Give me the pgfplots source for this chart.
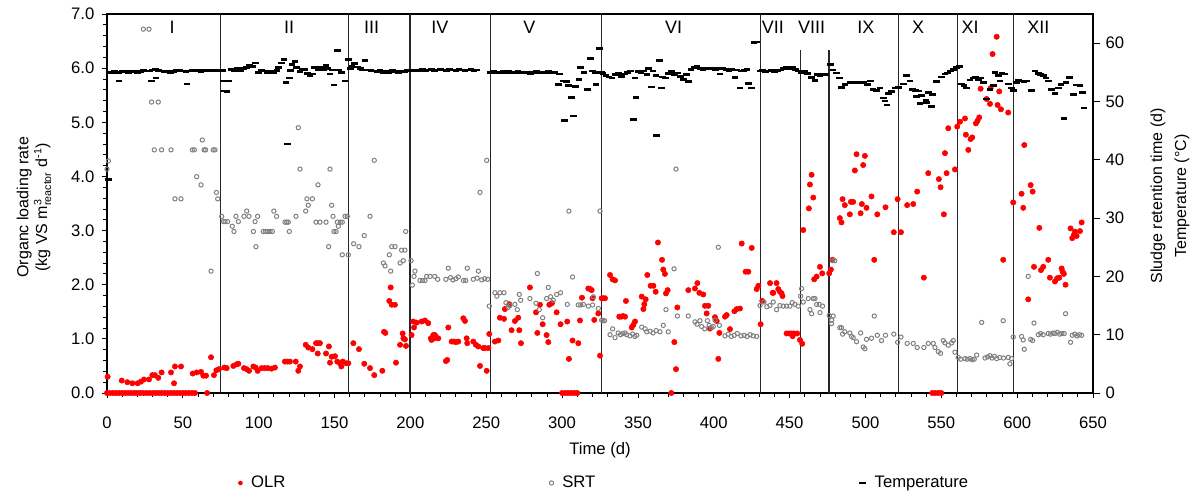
\documentclass[border=0pt]{standalone}
\usepackage{pgfplots}
\pgfplotsset{compat=1.18}
\usepackage{amsmath}
\usepackage{fontspec}
\setmainfont{Liberation Sans}
\definecolor{srtgray}{RGB}{128,128,128}
\definecolor{olrred}{RGB}{255,0,0}
\begin{document}
\begin{tikzpicture}[font=\fontsize{12.5}{14}\selectfont]
\useasboundingbox (-80.25pt,-78pt) rectangle (816pt,294.75pt);
\begin{axis}[
  scale only axis, width=739.5pt, height=284.25pt,
  at={(0,0)}, anchor=south west,
  xmin=0, xmax=650, ymin=0, ymax=7,
  xtick={0,50,...,650}, minor x tick num=4,
  ytick={0,1,...,7}, minor y tick num=4,
  xtick pos=bottom, ytick pos=left,
  tick align=outside,
  major tick length=4pt, minor tick length=3pt,
  every tick/.style={black, line width=0.6pt},
  axis line style={black, line width=0.8pt},
  /pgf/number format/assume math mode=true,
  yticklabel style={xshift=-2pt, /pgf/number format/.cd, fixed, fixed zerofill, precision=1},
  xticklabel style={yshift=-10pt},
  xlabel={Time (d)},
  xlabel style={at={(axis description cs:0.5,-0.150)}, anchor=center},
  ylabel={Organc loading rate\\(kg VS m$^{\text{3}}_{\text{reactor}}$ d$^{\text{-1}}$)},
  every axis y label/.style={at={(axis description cs:-0.074,0.49)}, rotate=90, anchor=center, align=center, font=\fontsize{12}{14}\selectfont},
  clip=false,
]
\addplot[only marks, mark=*, mark size=2pt, color=olrred] coordinates {
(0,0)(2,0)(4,0)(6,0)(8,0)(10,0)(12,0)(14,0)(16,0)(18,0)(20,0)(22,0)(24,0)(26,0)(28,0)(30,0)(32,0)(34,0)(36,0)(38,0)(40,0)(42,0)(44,0)(46,0)(48,0)(50,0)(52,0)(54,0)(56,0)(58,0)(66,0)
(300,0)(302,0)(304,0)(306,0)(308,0)(310,0)(372,0)(544,0)(546,0)(548,0)(550,0)
(0.4,0.30)(9.7,0.23)(13.4,0.20)(16.7,0.18)(20.2,0.18)(22.4,0.21)(24.4,0.25)(27.7,0.25)(29.9,0.33)(31.6,0.33)(33.8,0.28)(36.0,0.38)(42.2,0.38)(44.2,0.18)(44.8,0.49)(48.8,0.49)(56.5,0.36)(59.1,0.38)(62.0,0.39)(63.5,0.32)(65.3,0.32)(68.6,0.66)(70.5,0.33)(72.1,0.42)(73.8,0.44)(77.3,0.47)(78.9,0.46)(83.3,0.50)(85.5,0.53)(86.6,0.54)(90.3,0.46)(92.1,0.44)(93.6,0.41)(96.5,0.49)(98.0,0.47)(99.3,0.41)(102,0.46)(104,0.46)(106,0.46)(108.5,0.45)(110.7,0.47)(117.3,0.58)(119,0.58)(120.6,0.58)(124.4,0.58)(126.1,0.41)(127.2,0.49)(131,0.89)(132.7,0.84)(135.4,0.81)(137.8,0.92)(139,0.92)(140.4,0.92)(138.9,0.73)(144.4,0.73)(146.3,0.86)(147,0.56)(148.1,0.67)(150.3,0.68)(151.8,0.58)(153.6,0.55)(154.5,0.49)(155.4,0.58)(157.6,0.55)(159.1,0.55)(162.4,0.92)(166.1,0.81)(169.6,0.54)(173.4,0.46)(176.2,0.33)(181.5,0.41)(182.6,1.13)(183.5,1.11)(186.1,1.70)(187,1.95)(187.7,1.63)(189.8,1.63)(190.5,0.56)(193.2,0.89)(194.9,1.10)(195.4,1.01)(196.4,0.99)(197.1,0.87)(200.8,1.07)(201.9,1.32)(202.4,1.21)(204.1,1.30)(207.4,1.32)(209.6,1.34)(211.8,1.29)(214,0.98)(215.1,1.07)
(216.2,1.07)(213.5,1.01)(216,1.01)(218.4,1.01)(223.4,0.59)(224.3,0.61)(225,1.21)(227.2,0.95)(228.5,0.95)(230,0.94)(231.6,0.95)(234.9,1.38)(236,1.33)(237.1,1.01)(237.5,0.92)(241.5,0.95)(243.2,0.89)(244.8,0.86)(245.9,0.50)(248,0.83)(249.2,0.83)(250.3,0.41)(251.4,0.83)(252,1.09)(255.7,0.95)(258,0.97)(259,1.39)(261.7,1.37)(262.3,1.55)(265.2,1.64)(266.7,1.16)(268.9,1.33)(271.1,1.39)(271.8,1.16)(272.9,0.92)(278.8,1.95)(282.8,1.49)(283.7,1.11)(285.4,1.63)(287.2,1.27)(289.8,1.07)(290.9,0.94)(291.6,1.63)(293.3,1.66)(296.4,1.49)(299,1.27)(303.4,1.32)(304.5,0.63)(306.9,0.97)(310.7,0.92)(311.8,1.34)(313.1,1.76)(317.3,1.93)(318.5,1.92)(319.5,1.90)(320.1,1.75)(321.2,1.35)(323.9,1.47)(325,0.69)(326.1,1.75)
(327.2,1.75)(328.3,1.75)(331.6,2.18)(333.3,2.10)(334.9,2.08)(337.7,1.41)(339,1.41)(340.2,1.42)(341.5,1.41)(342.1,1.70)(345.9,1.21)(347,1.26)(348.1,1.32)(352.5,1.78)(353.6,1.55)(354.2,1.64)(355.1,1.73)(356.2,2.18)(358.4,1.98)(360.2,1.98)(361.7,1.87)(363.2,2.78)(365.9,2.46)(366.7,2.28)(367.8,2.20)(368.5,1.84)(369.6,1.90)(374,0.94)(375.1,0.44)(376,1.58)(383.2,1.90)(387.6,1.93)(389.2,2.03)(390.5,1.85)(393.1,1.82)(394.2,1.61)(396.4,1.61)(395.3,1.47)(397.5,1.19)(400.8,1.40)(401.9,1.33)(403,0.63)(403.7,1.11)(407.4,1.41)(408.5,1.44)(410.7,1.18)(413.6,1.51)(415.1,1.55)(417.3,1.56)(418.4,2.76)(421,2.24)(422.8,2.24)(425,2.68)(428.3,1.92)(429.4,1.98)(430.9,1.27)(432,1.70)(437.1,2.03)(438.8,1.85)
(439.2,1.85)(441.4,2.03)(442.5,1.92)(443.6,1.87)(444.7,1.84)(445.3,1.79)(448,1.10)(449.7,1.10)(451.3,1.10)(452,1.05)(452.8,1.10)(455,1.10)(456.8,0.98)(458.3,0.91)(459,3.01)(462.7,3.41)(463.4,3.85)(464.5,4.03)(465.6,3.61)(466.2,2.10)(467.8,2.15)(470,2.33)(471.5,2.21)(476.1,2.21)(477.2,2.28)(478.3,2.46)(483.1,3.23)(484.2,3.15)(484.9,3.58)(486.4,3.47)(489.7,3.30)(490.4,3.53)(491.9,3.53)(493,4.11)(494.1,4.41)(496.8,3.32)(497.6,3.49)(498.5,4.21)(499.6,4.38)(500.7,3.42)(504,3.63)(505.8,2.46)(507.8,3.30)(513.2,3.43)(518.7,2.97)(521.2,3.58)(523.4,2.97)(527.5,3.47)(531.5,3.49)(534.1,3.72)(538.5,2.13)(541.4,4.06)(548.4,3.95)(549.5,3.80)(551.7,3.30)(552.4,4.43)(553.5,4.06)
(554.6,4.89)(559,4.13)(560.5,4.92)(562.3,5.01)(565.6,5.07)(566.2,4.77)(567.8,4.49)(569.3,4.69)(570.4,4.72)(572.8,4.98)(573.9,5.03)(575,5.09)(575.9,5.62)(579.9,5.43)(582.1,5.34)(582.5,5.63)(583.8,6.26)(586.5,6.58)(587.1,5.32)(588.2,5.57)(589.3,5.24)(590.8,2.46)(594.1,5.18)(597.4,3.52)(602.9,3.68)(604,3.42)(604.7,4.58)(607.3,1.73)(608.9,3.84)(610.2,3.72)(611.1,2.33)(614.6,3.05)(615.7,2.27)(617.2,2.33)(620.5,2.46)(621.6,2.13)(624.9,2.06)(626.4,2.12)(627.8,2.13)(629.3,2.30)(630,2.24)(630.8,2.20)(631.9,2.00)(635.2,3.04)(636.3,2.86)(637.4,2.92)(638.1,2.98)(639.2,2.90)(641.4,2.99)(642.5,3.15)
};
\draw[black!85, line width=0.9pt] (axis cs:75,0) -- (axis cs:75,7);
\draw[black!85, line width=0.9pt] (axis cs:159,0) -- (axis cs:159,7);
\draw[black!85, line width=0.9pt] (axis cs:199.7,0) -- (axis cs:199.7,7);
\draw[black!85, line width=0.9pt] (axis cs:253,0) -- (axis cs:253,7);
\draw[black!85, line width=0.9pt] (axis cs:326,0) -- (axis cs:326,7);
\draw[black!85, line width=0.9pt] (axis cs:431,0) -- (axis cs:431,7);
\draw[black!85, line width=0.9pt] (axis cs:457,0) -- (axis cs:457,6.34);
\draw[black!85, line width=0.9pt] (axis cs:476,0) -- (axis cs:476,6.34);
\draw[black!85, line width=0.9pt] (axis cs:521.6,0) -- (axis cs:521.6,7);
\draw[black!85, line width=0.9pt] (axis cs:560.5,0) -- (axis cs:560.5,7);
\draw[black!85, line width=0.9pt] (axis cs:597.5,0) -- (axis cs:597.5,7);
\begin{scope}[font=\fontsize{13.5}{15}\selectfont]
\node at (axis cs:43,6.76) {I};
\node at (axis cs:120,6.76) {II};
\node at (axis cs:174.5,6.76) {III};
\node at (axis cs:219.5,6.76) {IV};
\node at (axis cs:278.5,6.76) {V};
\node at (axis cs:373.5,6.76) {VI};
\node at (axis cs:439,6.76) {VII};
\node at (axis cs:464.5,6.76) {VIII};
\node at (axis cs:500.3,6.76) {IX};
\node at (axis cs:534.8,6.76) {X};
\node at (axis cs:569,6.76) {XI};
\node at (axis cs:614,6.76) {XII};
\end{scope}
\end{axis}
\begin{axis}[
  scale only axis, width=739.5pt, height=284.25pt,
  at={(0,0)}, anchor=south west,
  xmin=0, xmax=650, ymin=0, ymax=65,
  axis x line=none, axis y line*=right,
  ytick={0,10,...,60},
  tick align=outside, major tick length=5pt,
  every tick/.style={black, line width=0.6pt},
  axis line style={black, line width=0.8pt},
  /pgf/number format/assume math mode=true,
  yticklabel style={xshift=1pt},
  ylabel={Sludge retention time (d)\\Temperature (°C)},
  every axis y label/.style={at={(axis description cs:1.078,0.52)}, rotate=90, anchor=center, align=center, font=\fontsize{12}{18}\selectfont},
  clip=false,
  legend style={at={(axis description cs:0.129,-0.2375)}, anchor=west, draw=none, fill=none, legend columns=3, font=\fontsize{12.5}{14}\selectfont, /tikz/every odd column/.append style={column sep=4.5pt}, /tikz/every even column/.append style={column sep=196pt}},
]
\addlegendimage{only marks, mark=*, mark size=1.5pt, olrred}
\addlegendentry{OLR}
\addplot[only marks, mark=o, mark size=1.6pt, srtgray, line width=0.75pt] coordinates {
(0,38.4)(0.9,39.8)(24,62.4)(27.7,62.4)(29.4,49.9)(33.8,49.9)(31.2,41.7)(36.0,41.7)(42.2,41.7)(44.8,33.3)(48.8,33.3)(56.3,41.7)(57.6,41.7)(59.1,37.1)(62.0,35.7)(62.8,43.4)(64,41.7)(65,41.7)(68.6,20.9)(70,41.7)(71.2,41.7)(72.1,34.4)(73,33.3)(75.6,30.3)(76.7,29.4)(77.8,29.4)(79.5,29.4)(82.6,28.6)(83.7,27.7)(85,30.3)(86.6,29.4)(90.3,30.3)(92.1,31.2)(93.6,30.3)(96.5,27.7)(97.6,29.4)(98.2,25.1)(99.3,30.3)(103,27.7)(104.5,27.7)(106,27.7)
(107.5,27.7)(109,27.7)(110,31.2)(111.8,30.3)(117.3,29.3)(118.5,29.3)(119.5,29.3)(120.2,27.7)(124.6,30.3)(126.1,45.5)(127.2,38.4)(131,31.2)(131.8,33.3)(132.7,32.2)(135.4,33.3)(137.8,29.3)(139.1,35.7)(140.4,29.3)(144.4,29.3)(146.1,25.1)(147,38.4)(148.1,32.2)(149,30.3)(149.6,27.7)(151,27.7)(151.8,29.3)(152.5,28.6)(153.8,29.3)(155.1,29.3)(155.1,23.7)(156.9,30.3)(158.4,30.3)(159.1,23.7)(162.6,25.6)(166.1,25.1)(169.6,27.0)(173.4,30.3)(176.2,39.9)(182.2,22.3)(183.3,21.8)(186.1,23.7)(187,20.9)(187.7,25.1)(189.9,25.1)(193.2,22.3)(194.2,24.5)(195.3,22.7)(196.4,24.5)(196.9,27.7)(200.4,22.7)(201.3,18.5)(202.4,20.0)(203,20.9)(206.3,19.3)(208,19.3)(209.6,19.3)(210.7,20.0)(213,20.0)(216,20.0)
(218,19.5)(223.4,19.5)(225,21.4)(226.5,19.8)(228,19.4)(230,19.6)(231.6,19.9)(235,19.3)(236.5,19.3)(237.5,21.4)(241.5,19.5)(244,19.7)(244.8,20.9)(245.9,34.4)(247,19.4)(249,19.6)(250.3,39.9)(251,19.5)(252,14.9)(255.7,17.2)(257,16.6)(259,17.2)(261.7,17.2)(263,15.5)(264.5,14.7)(265.6,15.0)(268.9,15.2)(270.5,14.3)(271.8,16.9)(272.7,15.9)(278.8,16.2)(282.8,15.4)(283.7,20.5)(285,14.3)(287.2,12.9)(289.8,16.2)(290.9,18.1)(292.4,16.5)(294.2,15.9)(296.4,16.9)(299,17.2)(303.4,15.2)(304.5,31.2)(306.9,19.9)(310.7,15.1)(312.3,15.1)(314,15.2)(317.3,14.9)(320.1,15.1)(320.6,16.5)(323.9,14.5)(325,31.2)(326.1,12.5)
(327,12.4)(328,12.4)(331.6,10.0)(333.3,11.0)(334.9,9.5)(337,10.3)(338.5,10.0)(340,10.2)(341.5,10.3)(342.6,10.0)(344.8,9.8)(346.5,10.1)(348,9.7)(349.2,9.9)(352.5,11.3)(354.7,11.0)(355.8,10.5)(358,10.6)(360,10.3)(362,10.7)(364.5,10.5)(366.7,11.6)(368.5,14.3)(370,10.5)(373.8,21.3)(375.1,38.4)(376,13.2)(383.2,13.2)(387.6,12.2)(389,11.8)(390.9,12.4)(392,11.4)(394,11.0)(395.8,12.4)(397,11.6)(398.5,11.2)(399.7,11.4)(400.8,12.5)(403,25.0)(403.7,11.6)(407.4,9.8)(409.5,10.1)(411.5,9.7)(413.5,9.9)(415.5,10.2)(418,9.8)(420,9.9)(422,9.7)(424,10.0)(426,9.8)(428.3,9.7)(430.5,15.0)(433.1,15.6)(435,14.8)(437,15.0)
(439.2,15.6)(441.4,14.3)(443.6,15.0)(445.8,14.9)(448,14.9)(450.2,14.9)(451.7,15.5)(453.5,15.2)(455.7,14.9)(457.2,16.6)(457.9,17.9)(459,15.6)(462.3,16.2)(463.4,14.3)(464.5,13.6)(465.6,16.2)(466.7,16.2)(467.8,15.2)(469.5,15.2)(470,13.8)(471.7,14.9)(476.1,13.3)(477.7,12.5)(478.7,13.2)(477.6,11.9)(478.3,22.7)(479.8,22.7)(483.1,11.2)(484.2,11.2)(484.9,10.1)(486.4,10.5)(489.7,10.3)(490.8,9.7)(491.9,9.5)(494.1,8.8)(496.8,10.3)(498.5,7.9)(499.6,7.6)(500.7,9.2)(504,9.4)(505.8,13.2)(507.8,9.9)(510.6,9.0)(513.2,9.9)(518.7,10.1)(521.2,8.7)(523.4,9.6)(527.5,8.5)(531.5,8.5)(534.1,7.8)(538.5,7.8)(541.4,8.5)(544.7,8.5)(545.8,7.8)(548,7.1)(549.5,6.8)(551.3,9.0)
(552.4,8.6)(554.6,8.2)(556.8,8.6)(557.9,9.0)(559,7.0)(561.2,6.1)(562.7,5.8)(565.6,5.9)(567.1,5.8)(568.9,5.9)(570.4,5.7)(571.7,5.8)(573.3,6.5)(576.6,12.1)(578.8,6.0)(580.5,6.2)(582,6.4)(583.5,6.0)(585,6.3)(586.5,5.9)(588.5,6.1)(590.8,12.4)(591,6.0)(594.1,6.1)(595.2,5.0)(596.3,5.9)(597.4,9.6)(602.9,9.7)(604,9.1)(604.7,7.5)(607.3,20.0)(608.9,9.2)(610.2,9.0)(611.1,12.0)(614,10.0)(615.5,10.2)(617.2,10.0)(620.5,10.2)(622,10.1)(623.8,10.3)(624.9,10.2)(626.5,10.4)(628,10.1)(629.5,10.2)(631,10.2)(631.9,13.6)(635.2,8.7)(636.3,9.9)(638,10.1)(639.5,9.8)(641,10.0)(642.5,9.9)
};
\addlegendentry{SRT}
\addplot[only marks, mark=-, mark size=2.5pt, black, line width=2pt] coordinates {
(0.9,36.6)(2,55.0)(3.5,55.0)(5,55.1)(7.9,53.5)(8,55.0)(10,55.2)(12,55.1)(14,55.0)(16,55.1)(18,55.2)(20,55.0)(22,55.1)(24,55.3)(26,55.2)(28,55.2)(29.4,53.5)(30,55.4)(32.3,54.0)(32,55.5)(34,55.3)(36,55.2)(38,55.1)(40,55.2)(42,55.0)(44,55.1)(46,55.3)(48,55.4)(50,55.2)(52,55.1)(52.8,53.0)(54,55.2)(56,55.3)(58,55.2)(60,55.4)(62,55.1)(64,55.3)(66,55.2)(68,55.3)(70,55.4)(72,55.3)(74,55.4)(76,55.3)(77,53.5)(77.3,51.8)(79,51.7)(80,53.5)(82,55.5)(84,55.2)(86,55.6)(88,55.3)(90,55.6)(92,55.8)(94,56.2)(96,56.0)(98,56.6)(100,55.0)(102,55.4)
(104,55.2)(106,55.0)(108,55.1)(110,54.9)(112,55.3)(113,55.8)(115,56.6)(116.7,57.2)(118,53.2)(118.9,42.7)(120.2,54.0)(121,55.3)(122,56.3)(124,56.8)(125,55.8)(127.2,55.1)(128.5,55.5)(130.5,55.5)(132,54.8)(133.8,54.4)(135.5,54.7)(137,55.8)(139,55.5)(141,55.8)(143,55.4)(144.4,56.2)(145.5,55.6)(147,54.7)(148.5,55.4)(149.6,52.8)(151.8,58.7)(153,55.4)(154.7,55.0)(156.9,53.5)(159.1,57.2)(160.5,55.6)(161.5,56.1)(163,56.5)(165,55.9)(167,55.7)(168.5,55.4)(170,57.0)(172,55.4)(174,55.3)(176,55.2)(178,55.1)(180,55.3)(182,55.0)(184,55.2)(186,55.0)(188,55.3)(190,55.1)(192,55.0)(194,55.2)(196,55.1)(198,55.3)(200,55.2)(202,55.3)(204,55.4)(206,55.3)(208,55.5)(210,55.3)(212,55.4)(214,55.5)(216,55.3)
(218,55.4)(220,55.5)(222,55.4)(224,55.3)(226,55.5)(228,55.4)(230,55.3)(232,55.5)(234,55.4)(236,55.3)(238,55.4)(240,55.5)(242,55.3)(244,55.4)(253,55.0)(255,55.1)(257,54.9)(259,55.0)(261,55.2)(263,55.0)(265,55.1)(267,54.9)(269,55.0)(271,55.1)(273,55.0)(275,54.9)(277,55.0)(279,54.8)(281,55.0)(283,55.1)(285,55.0)(287,54.9)(289,55.0)(291,55.1)(293,55.0)(295,55.0)(297.5,52.9)(298.5,54.7)(300.8,53.5)(301.5,46.7)(303,53.4)(304.1,52.7)(306.3,50.7)(307.4,47.5)(308.9,52.6)(311.1,53.8)(312.2,55.8)(314.4,55.0)(316.6,52.1)(318.8,57.4)(320,55.2)(321.7,55.0)(322.3,52.9)(324.5,59.1)(326.1,55.0)
(327,54.8)(329,54.5)(331,54.2)(333,54.0)(335,54.6)(337,54.8)(339,54.3)(341,54.7)(343,55.0)(345,55.2)(347,46.9)(348,54.0)(348.7,50.7)(350,55.1)(352,55.0)(354,55.2)(356,54.6)(357,55.6)(359,52.5)(360,55.2)(362.3,44.2)(362,54.5)(364.1,57.0)(365.6,52.3)(366,54.2)(368,54.0)(370,54.8)(372,55.1)(374,54.6)(376,54.9)(378,54.3)(380,53.8)(382,54.6)(383.2,53.4)(385,55.5)(387,55.8)(389,56.0)(391,55.6)(393,55.4)(395,55.7)(397,55.7)(399,55.6)(401,55.5)(403,55.7)(404,54.7)(406,55.6)(408,55.5)(410,55.3)(412,55.5)(414,54.1)(415,55.4)(417.3,52.3)(418,55.2)(420,55.3)(422,55.5)(422.8,53.1)(425,52.3)(426.5,60.1)(428.3,60.2)(430.5,55.2)(432,55.3)(434,55.1)(436,55.2)(438,55.3)(440,55.1)
(442,55.3)(444,55.4)(446,55.6)(448,55.8)(450,55.7)(452,55.8)(454,55.5)(456,55.2)(458,55.0)(460,55.1)(462,54.8)(464.5,54.1)(466.7,53.6)(468,54.6)(470,54.5)(472,54.7)(474,54.6)(477,56.3)(478.7,55.4)(481,54.9)(483,54.0)(484.3,52.4)(486.4,52.9)(489.7,53.2)(491.9,53.3)(495,53.2)(498.5,53.2)(501.5,52.9)(503.5,53.5)(505,52.1)(507.3,51.9)(509.5,52.3)(511.7,50.6)(512.8,50.1)(514.3,49.4)(515,51.4)(517.2,51.7)(519.4,52.3)(521.6,52.4)(524.9,53.0)(527,54.4)(529.3,53.5)(531,52.1)(533,51.9)(533.7,50.9)(534.8,51.8)(535.9,49.7)(537,51.0)(539.8,50.2)(540.3,49.8)(541.4,51.5)(543.6,49.1)(544.2,51.2)(546.9,53.4)(550.2,54.2)(552.4,54.7)
(554,54.9)(556,55.2)(558,55.5)(560,55.8)(562,56.0)(563.4,53.0)(565,52.7)(566.7,52.3)(568.9,53.7)(571.1,54.0)(572.5,54.2)(574.4,53.8)(576,54.0)(577.7,53.2)(579.9,50.4)(582.1,52.1)(584.3,52.7)(585.4,55.0)(587.6,54.4)(588.7,53.5)(590,54.9)(591.9,54.7)(594.1,53.0)(596.3,52.3)(597.4,51.9)(599.6,53.2)(601,53.6)(602.9,53.5)(604.5,53.4)(606.2,53.5)(609.5,51.9)(611.7,55.2)(613.9,54.8)(615.5,54.6)(617.2,54.4)(619,54.0)(620.5,53.5)(622.7,52.1)(624.9,51.4)(627.1,52.3)(628.8,52.9)(630.8,47.1)(632.2,53.2)(634.4,54.1)(637,51.2)(639.2,52.8)(641.4,52.7)(643.2,51.5)(644,48.9)
};
\addlegendentry{Temperature}
\end{axis}
\end{tikzpicture}
\end{document}
